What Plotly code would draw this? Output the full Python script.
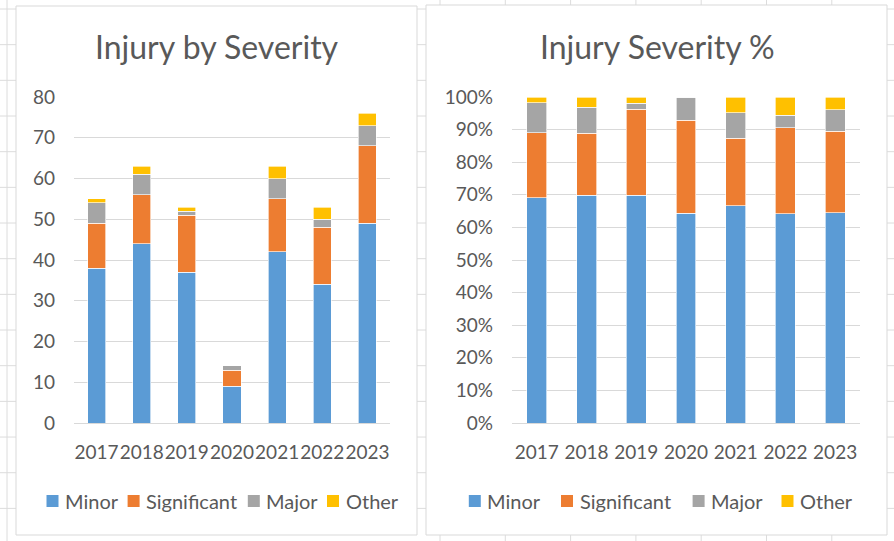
import plotly.graph_objects as go

# ---------------- data ----------------
years = ["2017", "2018", "2019", "2020", "2021", "2022", "2023"]
minor = [38, 44, 37, 9, 42, 34, 49]
significant = [11, 12, 14, 4, 13, 14, 19]
major = [5, 5, 1, 1, 5, 2, 5]
other = [1, 2, 1, 0, 3, 3, 3]

series_names = ["Minor", "Significant", "Major", "Other"]
series_values = [minor, significant, major, other]
series_colors = ["#5B9BD5", "#ED7D31", "#A5A5A5", "#FFC000"]

left_title = "Injury by Severity"
right_title = "Injury Severity %"

# ---------------- layout helpers ----------------
W, H = 894, 541
FONT = "Lato"
TXT = "#595959"
GRID = "#D9D9D9"
SHEET = "#DCDCDC"


def px(x):
    return x / W


def py(y):
    return 1 - y / H


totals = [sum(v) for v in zip(*series_values)]

fig = go.Figure()
for name, vals, col in zip(series_names, series_values, series_colors):
    fig.add_trace(go.Bar(
        x=years, y=vals, name=name, marker_color=col,
        marker_line=dict(color="rgba(255,255,255,0.8)", width=0.8),
        xaxis="x", yaxis="y", showlegend=False))
for name, vals, col in zip(series_names, series_values, series_colors):
    share = [v / t for v, t in zip(vals, totals)]
    fig.add_trace(go.Bar(
        x=years, y=share, name=name, marker_color=col,
        marker_line=dict(color="rgba(255,255,255,0.8)", width=0.8),
        xaxis="x2", yaxis="y2", showlegend=False))

tickfont = dict(family=FONT, size=19, color=TXT)

shapes = []
# spreadsheet grid (background)
for k in range(16):
    y = 9 + 35.67 * k
    shapes.append(dict(type="line", xref="paper", yref="paper", layer="below",
                       x0=0, x1=1, y0=py(y), y1=py(y),
                       line=dict(color=SHEET, width=1)))
for x in [7] + [440 + 65.3 * k for k in range(7)]:
    shapes.append(dict(type="line", xref="paper", yref="paper", layer="below",
                       x0=px(x), x1=px(x), y0=0, y1=1,
                       line=dict(color=SHEET, width=1)))
# chart boxes
for (x0, x1, y0, y1) in [(16, 417, 6, 535), (426, 887, 5, 535)]:
    shapes.append(dict(type="rect", xref="paper", yref="paper", layer="below",
                       x0=px(x0), x1=px(x1), y0=py(y1), y1=py(y0),
                       fillcolor="white", line=dict(color=GRID, width=1)))

annotations = [
    dict(text=left_title, x=px(216.5), y=py(47), xref="paper", yref="paper",
         xanchor="center", yanchor="middle", showarrow=False,
         font=dict(family=FONT, size=32, color=TXT)),
    dict(text=right_title, x=px(657), y=py(47), xref="paper", yref="paper",
         xanchor="center", yanchor="middle", showarrow=False,
         font=dict(family=FONT, size=32, color=TXT)),
]

# legends (one per chart)
leg_y = 501
left_sq = [46.5, 127.6, 247.8, 327]
right_sq = [468.8, 561, 692.6, 781.5]
for sqs in (left_sq, right_sq):
    for sx, name, col in zip(sqs, series_names, series_colors):
        shapes.append(dict(type="rect", xref="paper", yref="paper",
                           x0=px(sx), x1=px(sx + 12), y0=py(leg_y + 6), y1=py(leg_y - 6),
                           fillcolor=col, line=dict(width=0)))
        annotations.append(dict(text=name, x=px(sx + 16.5), y=py(leg_y), xref="paper",
                                yref="paper", xanchor="left", yanchor="middle",
                                showarrow=False, font=dict(family=FONT, size=20, color=TXT)))

common_x = dict(type="category", tickangle=0, showgrid=False, showline=True,
                linecolor=GRID, linewidth=1, ticks="", tickfont=tickfont,
                ticklabelstandoff=12, automargin=False)
common_y = dict(showgrid=True, gridcolor=GRID, gridwidth=1, zeroline=False,
                showline=False, ticks="", tickfont=tickfont, ticklabelstandoff=18,
                automargin=False)

fig.update_layout(
    width=W, height=H,
    margin=dict(l=0, r=0, t=0, b=0, pad=0, autoexpand=False),
    paper_bgcolor="white", plot_bgcolor="rgba(0,0,0,0)",
    barmode="stack", bargap=0.6,
    font=dict(family=FONT, color=TXT),
    shapes=shapes, annotations=annotations,
    xaxis=dict(domain=[px(74), px(390)], anchor="y", **common_x),
    yaxis=dict(domain=[py(423), py(97)], anchor="x", range=[0, 80], dtick=10, **common_y),
    xaxis2=dict(domain=[px(512), px(860)], anchor="y2", **common_x),
    yaxis2=dict(domain=[py(423), py(97)], anchor="x2", range=[0, 1], dtick=0.1,
                tickformat=".0%", **common_y),
)

fig.write_html("out.html", config={"displayModeBar": False},
               post_script="document.body.style.margin='0';document.body.style.overflow='hidden';")
